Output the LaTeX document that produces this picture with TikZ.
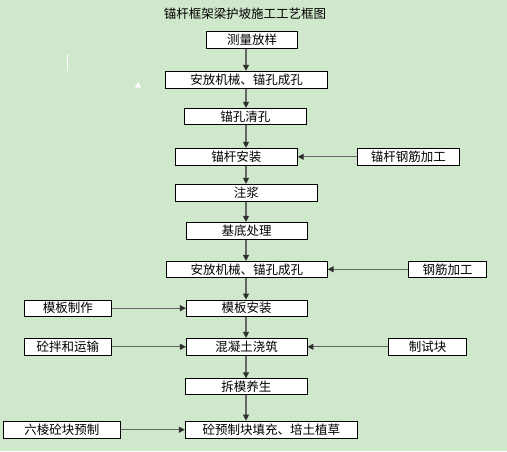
\documentclass[tikz,border=0pt]{standalone}
\usepackage{fontspec}
\newfontfamily\cjk{Noto Sans CJK SC}
\usetikzlibrary{arrows.meta}
\definecolor{bg}{HTML}{CFE7CA}
\definecolor{ln}{HTML}{666666}
\definecolor{hd}{HTML}{303030}
\begin{document}
\begin{tikzpicture}[x=1pt,y=-1pt,
  box/.style={draw=black,line width=0.8pt,fill=white,inner sep=0pt,minimum height=17pt,font=\cjk\fontsize{12.5}{14}\selectfont},
  ttl/.style={inner sep=0pt,font=\cjk\fontsize{12.5}{14}\selectfont},
  arr/.style={draw=ln,line width=1.2pt,-{Triangle[length=6pt,width=6pt,color=hd]}}]
\fill[bg] (0,0) rectangle (507,451);
\node[ttl] (title) at (245,13.8) {锚杆框架梁护坡施工工艺框图};
\coordinate (sp) at (246,0);
% main column
\node[box,minimum width=90.6pt] (m1) at (252,39.8) {测量放样};
\node[box,minimum width=161.6pt] (m2) at (246.5,79.7) {安放机械、锚孔成孔};
\node[box,minimum width=122pt,minimum height=16pt] (m3) at (245.3,116.3) {锚孔清孔};
\node[box,minimum width=122pt] (m4) at (236.3,156.8) {锚杆安装};
\node[box,minimum width=142pt] (m5) at (246.3,192.8) {注浆};
\node[box,minimum width=120.7pt] (m6) at (246.7,230.8) {基底处理};
\node[box,minimum width=161pt,minimum height=16pt] (m7) at (246.8,269.3) {安放机械、锚孔成孔};
\node[box,minimum width=120.7pt,minimum height=16.3pt] (m8) at (246.7,308.2) {模板安装};
\node[box,minimum width=120.7pt] (m9) at (246.7,346.8) {混凝土浇筑};
\node[box,minimum width=122pt,minimum height=15.6pt] (m10) at (246.3,386.5) {拆模养生};
\node[box,minimum width=172pt,minimum height=17.3pt] (m11) at (271.3,429.7) {砼预制块填充、培土植草};
% side boxes
\node[box,minimum width=102pt] (r4) at (408.3,156.8) {锚杆钢筋加工};
\node[box,minimum width=78.4pt,minimum height=16pt] (r7) at (447.5,269.3) {钢筋加工};
\node[box,minimum width=87pt,minimum height=16.3pt] (l8) at (67.8,308.2) {模板制作};
\node[box,minimum width=87pt] (l9) at (67.8,346.8) {砼拌和运输};
\node[box,minimum width=78.4pt] (r9) at (427.5,346.8) {制试块};
\node[box,minimum width=117pt,minimum height=17.3pt] (l11) at (61.8,429.7) {六棱砼块预制};
% vertical arrows
\draw[arr] (m1.south -| sp) -- (m2.north -| sp);
\draw[arr] (m2.south -| sp) -- (m3.north -| sp);
\draw[arr] (m3.south -| sp) -- (m4.north -| sp);
\draw[arr] (m4.south -| sp) -- (m5.north -| sp);
\draw[arr] (m5.south -| sp) -- (m6.north -| sp);
\draw[arr] (m6.south -| sp) -- (m7.north -| sp);
\draw[arr] (m7.south -| sp) -- (m8.north -| sp);
\draw[arr] (m8.south -| sp) -- (m9.north -| sp);
\draw[arr] (m9.south -| sp) -- (m10.north -| sp);
\draw[arr] (m10.south -| sp) -- (m11.north -| sp);
% horizontal arrows
\draw[arr] (r4.west) -- (m4.east);
\draw[arr] (r7.west) -- (m7.east);
\draw[arr] (l8.east) -- (m8.west);
\draw[arr] (l9.east) -- (m9.west);
\draw[arr] (r9.west) -- (m9.east);
\draw[arr] (l11.east) -- (m11.west);
% small white marks
\draw[white,line width=1pt] (67.5,54) -- (67.5,71);
\fill[white] (138,81.7) -- (141,87.7) -- (135,87.7) -- cycle;
\end{tikzpicture}
\end{document}
